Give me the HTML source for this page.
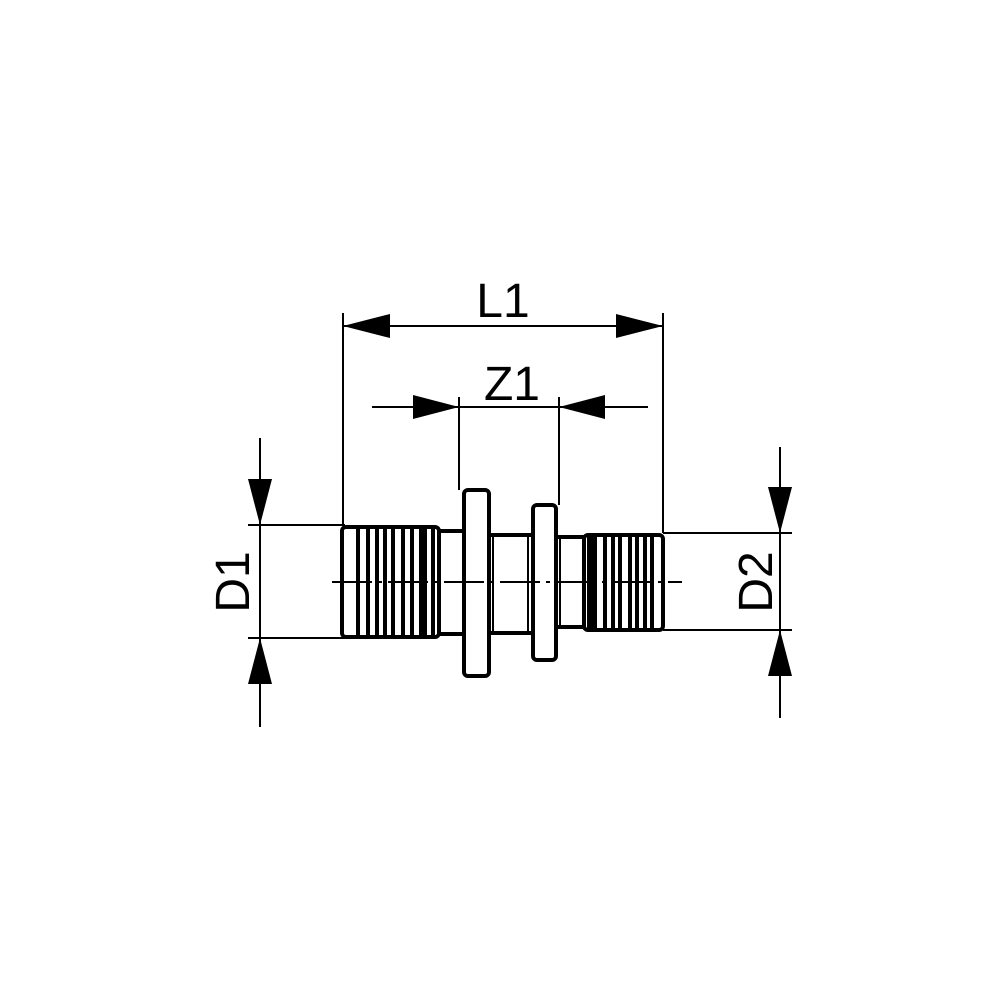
<!DOCTYPE html>
<html><head><meta charset="utf-8"><style>html,body{margin:0;padding:0;background:#fff}
text{font-family:"Liberation Sans",Arial,Helvetica,sans-serif;font-size:48px}</style></head>
<body>
<svg width="1000" height="1000" viewBox="0 0 1000 1000" xmlns="http://www.w3.org/2000/svg">
<rect width="1000" height="1000" fill="#fff"/>
<g stroke="#000" stroke-width="2" fill="none">
<line x1="343" y1="313" x2="343" y2="525"/>
<line x1="663" y1="313" x2="663" y2="533"/>
<line x1="459" y1="397" x2="459" y2="490"/>
<line x1="559" y1="397" x2="559" y2="505"/>
<line x1="248" y1="525" x2="345" y2="525"/>
<line x1="248" y1="638" x2="345" y2="638"/>
<line x1="663" y1="533" x2="792" y2="533"/>
<line x1="663" y1="630" x2="792" y2="630"/>
<line x1="343" y1="326" x2="663" y2="326"/>
<line x1="372" y1="407" x2="648" y2="407"/>
<line x1="260" y1="438" x2="260" y2="727"/>
<line x1="780" y1="447" x2="780" y2="718"/>
</g>
<g fill="#000">
<polygon points="343,326 390,314 390,338"/>
<polygon points="663,326 616,314 616,338"/>
<polygon points="459,407 413,395 413,419"/>
<polygon points="559,407 605,395 605,419"/>
<polygon points="260,525 248,479 272,479"/>
<polygon points="260,638 248,684 272,684"/>
<polygon points="780,533 768,487 792,487"/>
<polygon points="780,630 768,676 792,676"/>
</g>
<g stroke="#000" stroke-width="4" fill="#fff" stroke-linejoin="round">
<rect x="436" y="531" width="29" height="103"/>
<rect x="487" y="535" width="47" height="98"/>
<rect x="554" y="537" width="33" height="90"/>
<rect x="464" y="490" width="25" height="186" rx="4"/>
<rect x="533" y="505" width="23" height="155" rx="4"/>
<rect x="342" y="527" width="97" height="110" rx="4"/>
<rect x="584" y="535" width="79" height="95" rx="4"/>
</g>
<g stroke="#000" stroke-width="4">
<line x1="358" y1="527" x2="358" y2="637"/>
<line x1="368" y1="527" x2="368" y2="637"/>
<line x1="377" y1="527" x2="377" y2="637"/>
<line x1="385" y1="527" x2="385" y2="637"/>
<line x1="393" y1="527" x2="393" y2="637"/>
<line x1="403" y1="527" x2="403" y2="637"/>
<line x1="412" y1="527" x2="412" y2="637"/>
<line x1="423" y1="527" x2="423" y2="637" stroke-width="8"/>
<line x1="433" y1="527" x2="433" y2="637"/>
<line x1="592" y1="535" x2="592" y2="630" stroke-width="10"/>
<line x1="605" y1="535" x2="605" y2="630"/>
<line x1="613" y1="535" x2="613" y2="630"/>
<line x1="620" y1="535" x2="620" y2="630"/>
<line x1="630" y1="535" x2="630" y2="630"/>
<line x1="637" y1="535" x2="637" y2="630"/>
<line x1="645" y1="535" x2="645" y2="630"/>
<line x1="652" y1="535" x2="652" y2="630"/>
<line x1="493" y1="537" x2="493" y2="631" stroke-width="2"/>
<line x1="528" y1="537" x2="528" y2="631" stroke-width="2"/>
<line x1="560" y1="539" x2="560" y2="625" stroke-width="2"/>
</g>
<line x1="332" y1="582" x2="682" y2="582" stroke="#000" stroke-width="2" stroke-dasharray="40,6,4,6"/>
<g fill="#000">
<text x="503" y="317" text-anchor="middle">L1</text>
<text x="512" y="400" text-anchor="middle">Z1</text>
<text transform="translate(249,582) rotate(-90)" text-anchor="middle">D1</text>
<text transform="translate(772,582) rotate(-90)" text-anchor="middle">D2</text>
</g>
</svg>
</body></html>
